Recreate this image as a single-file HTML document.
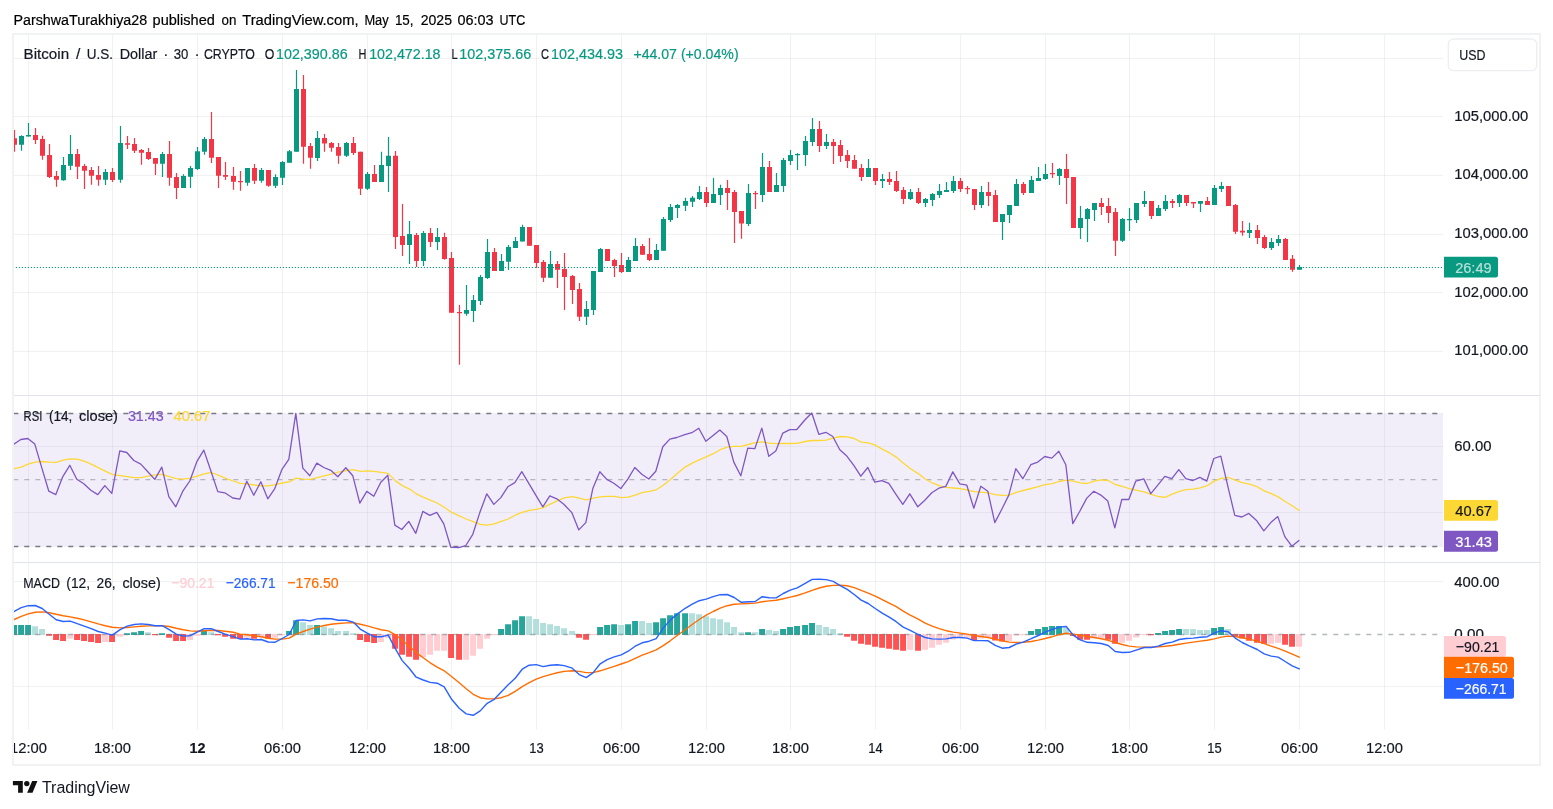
<!DOCTYPE html>
<html lang="en"><head><meta charset="utf-8"><title>BTCUSD chart</title>
<style>
html,body{margin:0;padding:0;background:#fff;}
body{width:1553px;height:809px;overflow:hidden;position:relative;font-family:"Liberation Sans", sans-serif;}
svg text{white-space:pre;stroke-width:0.2px;}
</style></head><body>
<svg width="1553" height="809" viewBox="0 0 1553 809" style="position:absolute;left:0;top:0;display:block" font-family='"Liberation Sans", sans-serif' font-size="15.5">
<defs><clipPath id="cp"><rect x="14" y="35" width="1429" height="695"/></clipPath><clipPath id="cf"><rect x="14" y="35" width="1525" height="729"/></clipPath></defs>
<rect x="0" y="0" width="1553" height="809" fill="#fff"/>
<path d="M28.5 34V729.5 M112.5 34V729.5 M197.5 34V729.5 M282.5 34V729.5 M367.5 34V729.5 M451.5 34V729.5 M536.5 34V729.5 M621.5 34V729.5 M706.5 34V729.5 M790.5 34V729.5 M875.5 34V729.5 M960.5 34V729.5 M1045.5 34V729.5 M1129.5 34V729.5 M1214.5 34V729.5 M1299.5 34V729.5 M1384.5 34V729.5" stroke="#2a2e39" stroke-opacity="0.065" stroke-width="1" fill="none"/>
<path d="M13 58.5H1443 M13 116.5H1443 M13 175.5H1443 M13 234.5H1443 M13 292.5H1443 M13 351.5H1443 M13 581.5H1443 M13 686.5H1443" stroke="#2a2e39" stroke-opacity="0.065" stroke-width="1" fill="none"/>
<rect x="13" y="413" width="1430" height="134" fill="#f2eef9"/>
<path d="M28.5 413V547 M112.5 413V547 M197.5 413V547 M282.5 413V547 M367.5 413V547 M451.5 413V547 M536.5 413V547 M621.5 413V547 M706.5 413V547 M790.5 413V547 M875.5 413V547 M960.5 413V547 M1045.5 413V547 M1129.5 413V547 M1214.5 413V547 M1299.5 413V547 M1384.5 413V547" stroke="#2a2e39" stroke-opacity="0.055" stroke-width="1" fill="none"/>
<path d="M13 446.5H1443M13 512.5H1443" stroke="#2a2e39" stroke-opacity="0.055" stroke-width="1" fill="none"/>
<path d="M13.3 413.5H1443M13.3 546.5H1443" stroke="#787b86" stroke-width="1.3" stroke-dasharray="5 6" fill="none"/>
<path d="M13.3 479.6H1443" stroke="#787b86" stroke-opacity="0.5" stroke-width="1.3" stroke-dasharray="5 6" fill="none"/>
<g clip-path="url(#cp)">
<path d="M21.5 135.3V150.8M28.5 123.1V136.6M63.5 157.1V180.8M70.5 135.1V169.9M105.5 169.0V184.9M120.5 126.1V182.8M162.5 152.0V177.0M183.5 174.2V187.9M190.5 166.1V187.9M197.5 147.0V169.9M204.5 137.0V154.8M247.5 168.1V185.8M261.5 168.1V182.8M275.5 174.2V187.9M282.5 161.0V184.9M289.5 150.0V162.8M296.5 70.0V151.7M317.5 131.0V160.9M346.5 142.0V156.9M367.5 172.0V189.9M381.5 151.8V181.9M388.5 136.9V192.0M409.5 221.0V263.9M423.5 230.9V266.0M437.5 228.0V250.0M466.5 285.0V315.8M473.5 295.0V321.9M480.5 274.9V304.9M487.5 239.1V279.0M501.5 253.9V270.9M508.5 245.0V269.9M515.5 236.9V248.0M522.5 224.8V241.6M550.5 250.9V277.8M586.5 301.0V324.9M593.5 271.0V315.0M600.5 247.9V271.9M628.5 256.9V271.9M635.5 238.0V260.9M656.5 243.9V259.9M663.5 217.0V250.8M670.5 203.9V222.0M677.5 203.9V218.0M685.5 197.8V210.9M692.5 196.0V206.9M699.5 185.9V199.9M713.5 177.9V202.9M720.5 184.8V205.0M748.5 184.1V226.0M762.5 153.0V202.1M776.5 173.0V192.0M783.5 158.0V192.0M790.5 150.0V164.9M797.5 153.0V170.0M805.5 136.0V166.1M812.5 118.0V145.9M826.5 134.0V148.9M868.5 158.9V176.9M882.5 174.0V188.0M910.5 188.9V200.0M925.5 198.0V206.9M932.5 193.1V205.9M939.5 184.0V198.0M946.5 182.0V191.9M953.5 176.1V193.1M981.5 185.9V207.9M1002.5 214.0V239.9M1009.5 204.9V222.9M1016.5 179.0V205.9M1031.5 176.1V193.1M1038.5 167.0V181.0M1045.5 163.9V179.9M1059.5 167.9V184.9M1080.5 206.0V239.1M1087.5 208.0V242.0M1094.5 203.1V221.1M1122.5 217.9V242.0M1129.5 208.0V231.0M1136.5 203.1V223.0M1144.5 191.0V207.0M1158.5 205.0V215.9M1165.5 195.0V211.0M1179.5 194.0V207.0M1200.5 201.0V211.9M1214.5 185.0V204.9M1221.5 182.0V191.9M1249.5 222.8V237.9M1271.5 237.9V250.0M1278.5 235.0V245.9M1299.5 264.9V269.7" stroke="#089981" stroke-width="1.2" fill="none"/>
<path d="M19.0 136.1h5V144.8h-5zM26.0 135.1h5V136.6h-5zM61.0 165.0h5V180.2h-5zM68.0 154.1h5V165.7h-5zM103.0 172.1h5V179.7h-5zM118.0 143.0h5V179.7h-5zM160.0 154.1h5V163.8h-5zM181.0 176.1h5V187.9h-5zM188.0 168.1h5V176.8h-5zM195.0 151.2h5V169.0h-5zM202.0 139.1h5V151.7h-5zM245.0 168.1h5V182.8h-5zM259.0 170.0h5V180.8h-5zM273.0 177.1h5V185.8h-5zM280.0 162.1h5V177.8h-5zM287.0 151.2h5V162.8h-5zM294.0 89.1h5V151.7h-5zM315.0 138.0h5V157.9h-5zM344.0 143.0h5V155.8h-5zM365.0 173.9h5V188.8h-5zM379.0 164.9h5V181.9h-5zM386.0 155.8h5V165.9h-5zM407.0 234.1h5V245.0h-5zM421.0 233.0h5V261.0h-5zM435.0 237.0h5V242.0h-5zM464.0 310.1h5V313.8h-5zM471.0 300.0h5V310.9h-5zM478.0 277.0h5V301.0h-5zM485.0 251.9h5V278.0h-5zM499.0 261.0h5V270.9h-5zM506.0 247.0h5V261.8h-5zM513.0 241.1h5V248.0h-5zM520.0 227.0h5V241.6h-5zM548.0 264.0h5V277.8h-5zM584.0 308.9h5V316.8h-5zM591.0 271.0h5V309.9h-5zM598.0 248.9h5V271.9h-5zM626.0 260.1h5V271.9h-5zM633.0 246.0h5V260.9h-5zM654.0 250.0h5V259.9h-5zM661.0 218.9h5V250.8h-5zM668.0 206.9h5V219.9h-5zM675.0 205.0h5V207.9h-5zM683.0 201.0h5V205.8h-5zM690.0 197.8h5V201.8h-5zM697.0 192.0h5V198.9h-5zM711.0 193.9h5V202.9h-5zM718.0 188.0h5V194.9h-5zM746.0 193.0h5V224.0h-5zM760.0 167.0h5V194.9h-5zM774.0 185.0h5V192.0h-5zM781.0 159.9h5V186.0h-5zM788.0 155.0h5V160.9h-5zM795.0 154.0h5V155.2h-5zM803.0 140.9h5V155.0h-5zM810.0 129.1h5V141.9h-5zM824.0 141.9h5V145.9h-5zM866.0 168.0h5V176.9h-5zM880.0 178.9h5V181.1h-5zM908.0 191.9h5V199.0h-5zM923.0 199.0h5V203.0h-5zM930.0 194.1h5V200.0h-5zM937.0 191.1h5V195.0h-5zM944.0 189.9h5V191.9h-5zM951.0 181.0h5V191.1h-5zM979.0 191.9h5V204.9h-5zM1000.0 214.0h5V221.9h-5zM1007.0 204.9h5V215.0h-5zM1014.0 184.0h5V205.9h-5zM1029.0 180.0h5V193.1h-5zM1036.0 178.0h5V181.0h-5zM1043.0 174.0h5V178.9h-5zM1057.0 168.9h5V176.0h-5zM1078.0 217.9h5V228.0h-5zM1085.0 209.0h5V218.9h-5zM1092.0 203.1h5V210.0h-5zM1120.0 218.9h5V240.8h-5zM1127.0 219.0h5V220.2h-5zM1134.0 203.1h5V219.9h-5zM1142.0 201.1h5V204.1h-5zM1156.0 208.0h5V215.9h-5zM1163.0 201.1h5V209.0h-5zM1177.0 195.0h5V203.1h-5zM1198.0 201.0h5V203.8h-5zM1212.0 188.1h5V204.9h-5zM1219.0 186.0h5V188.9h-5zM1247.0 229.9h5V232.9h-5zM1269.0 241.9h5V247.9h-5zM1276.0 238.9h5V242.9h-5zM1297.0 267.0h5V269.7h-5z" fill="#089981"/>
<path d="M14.5 130.1V151.7M35.5 128.0V143.9M42.5 135.8V159.8M49.5 144.1V178.0M56.5 171.1V186.8M77.5 149.1V178.9M84.5 164.0V188.9M91.5 167.1V184.7M98.5 166.1V185.8M112.5 168.1V182.0M127.5 136.1V148.9M134.5 138.0V152.9M141.5 149.1V164.8M148.5 148.1V160.0M155.5 158.1V174.9M169.5 141.0V185.8M176.5 173.1V198.9M211.5 111.9V162.9M218.5 157.1V187.9M225.5 162.1V179.9M233.5 167.1V189.8M240.5 171.1V190.8M254.5 164.0V183.9M268.5 170.0V186.8M303.5 75.1V163.8M310.5 143.0V168.8M324.5 134.0V151.8M331.5 142.0V151.8M338.5 143.0V163.8M353.5 136.9V155.0M360.5 151.8V194.9M374.5 164.9V181.9M395.5 151.0V249.0M402.5 204.0V255.9M416.5 233.0V267.1M430.5 228.0V246.9M444.5 232.7V259.8M451.5 251.9V312.8M459.5 304.9V364.7M494.5 248.0V270.9M529.5 227.0V245.8M536.5 245.0V268.0M543.5 260.0V282.0M557.5 261.0V287.9M564.5 252.9V309.9M572.5 274.9V303.9M579.5 283.0V321.0M607.5 248.9V260.9M614.5 258.8V276.9M621.5 252.9V272.9M642.5 243.9V254.8M649.5 238.0V260.9M706.5 186.9V206.9M727.5 180.0V210.0M734.5 189.9V243.1M741.5 211.0V238.8M755.5 191.0V209.0M769.5 160.9V192.0M819.5 121.0V152.0M833.5 139.0V163.9M840.5 140.0V161.9M847.5 150.0V168.0M854.5 155.0V168.8M861.5 163.9V181.1M875.5 168.0V185.0M889.5 172.0V185.0M896.5 170.9V191.9M903.5 186.9V203.9M918.5 187.9V203.9M960.5 178.0V191.9M967.5 185.9V194.1M974.5 188.9V209.9M988.5 182.0V205.9M995.5 189.9V221.9M1023.5 182.0V195.0M1052.5 162.9V178.0M1066.5 154.0V204.1M1073.5 177.0V228.0M1101.5 197.9V214.9M1108.5 197.9V223.0M1115.5 208.0V255.9M1151.5 201.1V218.9M1172.5 198.9V208.0M1186.5 195.0V205.9M1193.5 201.9V208.0M1207.5 196.9V204.9M1228.5 186.0V205.9M1235.5 204.0V233.9M1242.5 220.9V235.8M1257.5 224.9V244.0M1264.5 235.0V249.0M1285.5 237.9V259.9M1292.5 254.9V271.8" stroke="#f23645" stroke-width="1.2" fill="none"/>
<path d="M12.0 138.2h5V144.8h-5zM33.0 135.1h5V139.9h-5zM40.0 139.1h5V155.7h-5zM47.0 155.0h5V177.0h-5zM54.0 176.1h5V179.7h-5zM75.0 154.1h5V166.7h-5zM82.0 166.1h5V170.7h-5zM89.0 170.0h5V175.7h-5zM96.0 175.1h5V179.7h-5zM110.0 172.1h5V179.9h-5zM125.0 143.2h5V144.8h-5zM132.0 144.1h5V150.8h-5zM139.0 150.1h5V152.7h-5zM146.0 152.0h5V159.0h-5zM153.0 158.1h5V163.8h-5zM167.0 154.1h5V177.8h-5zM174.0 177.1h5V187.9h-5zM209.0 139.1h5V157.8h-5zM216.0 157.1h5V175.7h-5zM223.0 175.1h5V176.8h-5zM231.0 176.1h5V181.8h-5zM238.0 181.0h5V182.2h-5zM252.0 168.1h5V180.8h-5zM266.0 170.0h5V185.8h-5zM301.0 89.1h5V146.7h-5zM308.0 146.0h5V157.8h-5zM322.0 138.0h5V143.6h-5zM329.0 143.0h5V147.8h-5zM336.0 147.0h5V155.8h-5zM351.0 143.0h5V152.9h-5zM358.0 151.8h5V188.8h-5zM372.0 173.9h5V181.9h-5zM393.0 155.8h5V237.0h-5zM400.0 235.9h5V245.0h-5zM414.0 234.9h5V261.0h-5zM428.0 233.0h5V242.0h-5zM442.0 237.1h5V258.9h-5zM449.0 258.1h5V312.8h-5zM457.0 312.0h5V313.2h-5zM492.0 251.9h5V270.9h-5zM527.0 227.0h5V245.8h-5zM534.0 245.0h5V263.0h-5zM541.0 262.0h5V277.8h-5zM555.0 264.0h5V269.7h-5zM562.0 268.9h5V276.9h-5zM570.0 276.1h5V289.9h-5zM577.0 288.9h5V316.8h-5zM605.0 248.9h5V260.9h-5zM612.0 260.1h5V266.0h-5zM619.0 264.9h5V271.9h-5zM640.0 246.0h5V254.8h-5zM647.0 254.0h5V260.1h-5zM704.0 192.0h5V202.9h-5zM725.0 188.0h5V193.0h-5zM732.0 192.0h5V211.9h-5zM739.0 211.0h5V223.6h-5zM753.0 193.0h5V194.2h-5zM767.0 167.0h5V192.0h-5zM817.0 129.1h5V145.9h-5zM831.0 141.9h5V145.9h-5zM838.0 145.1h5V156.0h-5zM845.0 155.0h5V160.9h-5zM852.0 159.9h5V168.8h-5zM859.0 168.0h5V176.9h-5zM873.0 168.0h5V181.1h-5zM887.0 178.9h5V181.9h-5zM894.0 181.0h5V191.1h-5zM901.0 189.9h5V199.0h-5zM916.0 191.9h5V203.0h-5zM958.0 181.0h5V188.9h-5zM965.0 188.0h5V189.2h-5zM972.0 188.9h5V204.9h-5zM986.0 191.9h5V196.0h-5zM993.0 195.0h5V221.9h-5zM1021.0 184.0h5V193.1h-5zM1050.0 173.0h5V174.2h-5zM1064.0 168.9h5V178.0h-5zM1071.0 177.0h5V228.0h-5zM1099.0 203.1h5V207.0h-5zM1106.0 206.0h5V213.0h-5zM1113.0 212.0h5V240.8h-5zM1149.0 201.1h5V215.9h-5zM1170.0 201.1h5V203.1h-5zM1184.0 195.0h5V203.0h-5zM1191.0 201.9h5V203.6h-5zM1205.0 201.0h5V204.9h-5zM1226.0 186.0h5V205.9h-5zM1233.0 204.9h5V231.8h-5zM1240.0 230.8h5V232.5h-5zM1255.0 229.9h5V237.9h-5zM1262.0 236.9h5V247.9h-5zM1283.0 238.9h5V259.9h-5zM1290.0 258.8h5V269.7h-5z" fill="#f23645"/>
<path d="M12.8 267.5H1443" stroke="#089981" stroke-width="1.1" stroke-dasharray="1.2 1.8" fill="none"/>
<polyline points="7.2,470.3 14.2,468.7 21.2,467.1 28.2,464.1 35.2,462.1 42.2,461.5 49.2,462.1 56.2,462.3 63.2,460.1 70.2,458.9 77.2,459.1 84.2,461.1 91.2,464.1 98.2,467.7 105.2,471.1 112.2,474.4 120.2,475.6 127.2,476.6 134.2,477.6 141.2,477.6 148.2,476.2 155.2,474.8 162.2,474.4 169.2,476.6 176.2,478.6 183.2,479.2 190.2,478.2 197.2,476.2 204.2,473.8 211.2,472.5 218.2,475.2 225.2,478.2 233.2,481.0 240.2,483.4 247.2,483.8 254.2,485.0 261.2,485.8 268.2,485.8 275.2,484.6 282.2,483.0 289.2,481.8 296.2,478.2 303.2,479.2 310.2,479.4 317.2,477.6 324.2,475.8 331.2,474.2 338.2,472.1 346.2,470.7 353.2,469.7 360.2,471.3 367.2,470.9 374.2,471.3 381.2,472.3 388.2,473.4 395.2,480.6 402.2,485.6 409.2,488.8 416.2,493.8 423.2,497.2 430.2,500.2 437.2,503.0 444.2,507.2 451.2,512.2 459.2,515.8 466.2,519.0 473.2,521.6 480.2,524.3 487.2,525.1 494.2,523.9 501.2,521.4 508.2,519.0 515.2,515.2 522.2,512.4 529.2,510.4 536.2,509.4 543.2,507.6 550.2,504.2 557.2,500.8 564.2,497.8 572.2,496.6 579.2,498.2 586.2,499.8 593.2,498.2 600.2,496.8 607.2,496.4 614.2,496.4 621.2,497.6 628.2,497.2 635.2,495.2 642.2,492.6 649.2,491.4 656.2,489.8 663.2,485.2 670.2,479.8 677.2,473.6 685.2,467.1 692.2,463.1 699.2,459.9 706.2,456.9 713.2,453.7 720.2,449.7 727.2,447.1 734.2,446.3 741.2,446.3 748.2,444.5 755.2,442.7 762.2,441.9 769.2,443.1 776.2,443.7 783.2,443.5 790.2,443.5 797.2,443.3 805.2,441.5 812.2,440.5 819.2,440.5 826.2,440.1 833.2,438.1 840.2,436.5 847.2,436.9 854.2,438.5 861.2,442.1 868.2,442.9 875.2,445.1 882.2,449.1 889.2,452.7 896.2,457.1 903.2,463.1 910.2,468.5 918.2,473.6 925.2,479.0 932.2,482.8 939.2,485.6 946.2,487.4 953.2,488.0 960.2,488.6 967.2,490.0 974.2,491.6 981.2,492.2 988.2,492.8 995.2,494.6 1002.2,495.4 1009.2,495.1 1016.2,492.3 1023.2,490.5 1031.2,488.5 1038.2,486.7 1045.2,484.7 1052.2,483.7 1059.2,481.5 1066.2,480.1 1073.2,481.1 1080.2,482.9 1087.2,483.5 1094.2,481.1 1101.2,479.9 1108.2,480.5 1115.2,484.5 1122.2,486.3 1129.2,488.7 1136.2,490.1 1144.2,491.9 1151.2,494.3 1158.2,496.5 1165.2,497.3 1172.2,494.1 1179.2,491.3 1186.2,489.7 1193.2,489.1 1200.2,487.9 1207.2,485.7 1214.2,481.1 1221.2,478.3 1228.2,477.5 1235.2,480.1 1242.2,482.7 1249.2,484.1 1257.2,486.7 1264.2,490.9 1271.2,493.7 1278.2,496.9 1285.2,501.5 1292.2,505.8 1299.2,510.4" stroke="#fdd835" stroke-width="1.3" fill="none" stroke-linejoin="round" stroke-linecap="square"/>
<polyline points="6.8,450.5 13.8,444.3 20.8,439.5 27.8,438.5 34.8,444.1 41.8,467.9 48.8,491.2 55.8,494.6 62.8,476.6 69.8,465.3 76.8,479.2 83.8,483.8 90.8,490.2 97.8,494.6 104.8,485.6 111.8,493.4 119.8,450.9 126.8,452.5 133.8,460.5 140.8,464.1 147.8,471.7 154.8,479.4 161.8,467.1 168.8,496.6 175.8,506.8 182.8,491.2 189.8,481.0 196.8,461.7 203.8,450.1 210.8,470.7 217.8,491.6 224.8,492.8 232.8,498.0 239.8,499.2 246.8,481.2 253.8,495.2 260.8,481.8 267.8,498.8 274.8,488.6 281.8,469.7 288.8,459.3 295.8,413.4 302.8,468.1 309.8,475.8 316.8,463.1 323.8,467.5 330.8,470.3 337.8,476.8 345.8,467.7 352.8,475.8 359.8,503.2 366.8,491.4 373.8,496.2 380.8,482.2 387.8,475.2 394.8,525.1 401.8,529.5 408.8,521.4 415.8,533.3 422.8,511.4 429.8,515.4 436.8,512.4 443.8,523.9 450.8,547.3 458.8,547.5 465.8,545.5 472.8,534.3 479.8,512.6 486.8,493.8 493.8,504.4 500.8,497.6 507.8,486.8 514.8,482.6 521.8,471.7 528.8,483.4 535.8,495.2 542.8,506.8 549.8,495.8 556.8,498.8 563.8,504.2 571.8,512.6 578.8,529.9 585.8,522.6 592.8,488.6 599.8,471.7 606.8,479.4 613.8,483.2 620.8,488.6 627.8,479.2 634.8,467.5 641.8,474.2 648.8,479.0 655.8,471.3 662.8,446.7 669.8,439.1 676.8,437.5 684.8,434.7 691.8,432.7 698.8,428.3 705.8,441.3 712.8,435.7 719.8,430.1 726.8,436.5 733.8,462.1 740.8,475.8 747.8,448.1 754.8,448.7 761.8,428.1 768.8,456.3 775.8,451.1 782.8,433.1 789.8,429.7 796.8,429.5 804.8,420.0 811.8,413.0 818.8,434.3 825.8,432.3 832.8,436.5 839.8,449.7 846.8,456.1 853.8,465.3 860.8,476.2 867.8,467.5 874.8,482.2 881.8,480.6 888.8,483.4 895.8,494.2 902.8,504.4 909.8,493.8 917.8,506.8 924.8,500.2 931.8,492.8 938.8,488.2 945.8,486.4 952.8,471.9 959.8,483.8 966.8,485.2 973.8,508.2 980.8,486.2 987.8,491.2 994.8,522.6 1001.8,509.2 1008.8,495.1 1015.8,468.7 1022.8,478.7 1030.8,464.7 1037.8,462.1 1044.8,456.5 1051.8,458.1 1058.8,451.3 1065.8,464.7 1072.8,523.6 1079.8,511.2 1086.8,498.1 1093.8,491.3 1100.8,495.1 1107.8,501.1 1114.8,527.8 1121.8,499.5 1128.8,499.5 1135.8,481.1 1143.8,478.9 1150.8,493.7 1157.8,485.1 1164.8,476.3 1171.8,478.7 1178.8,469.7 1185.8,478.7 1192.8,480.5 1199.8,477.3 1206.8,481.1 1213.8,458.5 1220.8,456.1 1227.8,486.1 1234.8,515.4 1241.8,517.0 1248.8,513.4 1256.8,520.8 1263.8,530.8 1270.8,522.6 1277.8,516.6 1284.8,536.6 1291.8,546.2 1298.8,540.6" stroke="#7e57c2" stroke-width="1.3" fill="none" stroke-linejoin="round" stroke-linecap="square"/>
<path d="M11.1 625.1h5.9V635.0h-5.9zM18.1 625.1h5.9V635.0h-5.9zM25.1 625.1h5.9V635.0h-5.9zM124.1 633.3h5.9V635.0h-5.9zM131.1 632.3h5.9V635.0h-5.9zM138.1 631.1h5.9V635.0h-5.9zM159.1 633.3h5.9V635.0h-5.9zM201.1 630.1h5.9V635.0h-5.9zM286.1 631.1h5.9V635.0h-5.9zM293.1 620.3h5.9V635.0h-5.9zM314.1 625.1h5.9V635.0h-5.9zM498.1 629.1h5.9V635.0h-5.9zM505.1 624.3h5.9V635.0h-5.9zM512.1 620.3h5.9V635.0h-5.9zM519.1 616.3h5.9V635.0h-5.9zM597.1 627.1h5.9V635.0h-5.9zM604.1 625.1h5.9V635.0h-5.9zM611.1 624.3h5.9V635.0h-5.9zM625.1 624.3h5.9V635.0h-5.9zM632.1 621.1h5.9V635.0h-5.9zM653.1 622.3h5.9V635.0h-5.9zM660.1 618.3h5.9V635.0h-5.9zM667.1 615.3h5.9V635.0h-5.9zM674.1 613.3h5.9V635.0h-5.9zM682.1 613.3h5.9V635.0h-5.9zM745.1 632.3h5.9V635.0h-5.9zM759.1 629.1h5.9V635.0h-5.9zM780.1 629.1h5.9V635.0h-5.9zM787.1 627.1h5.9V635.0h-5.9zM794.1 626.1h5.9V635.0h-5.9zM802.1 625.1h5.9V635.0h-5.9zM809.1 623.1h5.9V635.0h-5.9zM1028.1 631.1h5.9V635.0h-5.9zM1035.1 629.1h5.9V635.0h-5.9zM1042.1 627.1h5.9V635.0h-5.9zM1049.1 626.1h5.9V635.0h-5.9zM1056.1 626.1h5.9V635.0h-5.9zM1155.1 633.1h5.9V635.0h-5.9zM1162.1 631.1h5.9V635.0h-5.9zM1169.1 630.1h5.9V635.0h-5.9zM1176.1 629.1h5.9V635.0h-5.9zM1211.1 628.1h5.9V635.0h-5.9zM1218.1 627.1h5.9V635.0h-5.9z" fill="#26a69a"/>
<path d="M32.1 626.3h5.9V635.0h-5.9zM39.1 629.1h5.9V635.0h-5.9zM145.1 632.3h5.9V635.0h-5.9zM208.1 632.3h5.9V635.0h-5.9zM300.1 622.3h5.9V635.0h-5.9zM307.1 625.1h5.9V635.0h-5.9zM321.1 626.5h5.9V635.0h-5.9zM328.1 628.3h5.9V635.0h-5.9zM335.1 631.1h5.9V635.0h-5.9zM343.1 631.1h5.9V635.0h-5.9zM350.1 633.3h5.9V635.0h-5.9zM526.1 616.3h5.9V635.0h-5.9zM533.1 619.1h5.9V635.0h-5.9zM540.1 623.1h5.9V635.0h-5.9zM547.1 624.3h5.9V635.0h-5.9zM554.1 626.1h5.9V635.0h-5.9zM561.1 628.3h5.9V635.0h-5.9zM569.1 631.1h5.9V635.0h-5.9zM618.1 625.1h5.9V635.0h-5.9zM639.1 621.1h5.9V635.0h-5.9zM646.1 623.1h5.9V635.0h-5.9zM689.1 613.3h5.9V635.0h-5.9zM696.1 614.3h5.9V635.0h-5.9zM703.1 616.3h5.9V635.0h-5.9zM710.1 618.3h5.9V635.0h-5.9zM717.1 619.3h5.9V635.0h-5.9zM724.1 622.3h5.9V635.0h-5.9zM731.1 627.1h5.9V635.0h-5.9zM738.1 632.3h5.9V635.0h-5.9zM752.1 632.3h5.9V635.0h-5.9zM766.1 630.1h5.9V635.0h-5.9zM773.1 631.1h5.9V635.0h-5.9zM816.1 625.1h5.9V635.0h-5.9zM823.1 627.1h5.9V635.0h-5.9zM830.1 629.1h5.9V635.0h-5.9zM837.1 633.3h5.9V635.0h-5.9zM1063.1 628.1h5.9V635.0h-5.9zM1183.1 629.1h5.9V635.0h-5.9zM1190.1 629.1h5.9V635.0h-5.9zM1197.1 630.1h5.9V635.0h-5.9zM1204.1 630.1h5.9V635.0h-5.9zM1225.1 629.1h5.9V635.0h-5.9z" fill="#b2dfdb"/>
<path d="M46.1 634.0h5.9V635.7h-5.9zM53.1 634.0h5.9V639.9h-5.9zM60.1 634.0h5.9V641.0h-5.9zM74.1 634.0h5.9V639.9h-5.9zM81.1 634.0h5.9V641.0h-5.9zM88.1 634.0h5.9V642.0h-5.9zM95.1 634.0h5.9V643.0h-5.9zM109.1 634.0h5.9V642.0h-5.9zM152.1 634.0h5.9V635.3h-5.9zM166.1 634.0h5.9V637.7h-5.9zM173.1 634.0h5.9V641.0h-5.9zM180.1 634.0h5.9V641.0h-5.9zM215.1 634.0h5.9V635.3h-5.9zM222.1 634.0h5.9V636.7h-5.9zM230.1 634.0h5.9V638.7h-5.9zM237.1 634.0h5.9V639.1h-5.9zM251.1 634.0h5.9V638.7h-5.9zM265.1 634.0h5.9V638.5h-5.9zM357.1 634.0h5.9V639.9h-5.9zM364.1 634.0h5.9V642.0h-5.9zM371.1 634.0h5.9V643.0h-5.9zM392.1 634.0h5.9V648.8h-5.9zM399.1 634.0h5.9V654.8h-5.9zM406.1 634.0h5.9V656.8h-5.9zM413.1 634.0h5.9V659.8h-5.9zM448.1 634.0h5.9V658.0h-5.9zM456.1 634.0h5.9V659.8h-5.9zM576.1 634.0h5.9V637.7h-5.9zM583.1 634.0h5.9V639.7h-5.9zM844.1 634.0h5.9V636.7h-5.9zM851.1 634.0h5.9V640.8h-5.9zM858.1 634.0h5.9V643.8h-5.9zM865.1 634.0h5.9V644.8h-5.9zM872.1 634.0h5.9V646.8h-5.9zM879.1 634.0h5.9V647.8h-5.9zM886.1 634.0h5.9V648.8h-5.9zM893.1 634.0h5.9V649.8h-5.9zM900.1 634.0h5.9V650.8h-5.9zM915.1 634.0h5.9V650.8h-5.9zM971.1 634.0h5.9V640.2h-5.9zM992.1 634.0h5.9V640.6h-5.9zM999.1 634.0h5.9V641.6h-5.9zM1070.1 634.0h5.9V636.1h-5.9zM1077.1 634.0h5.9V639.7h-5.9zM1084.1 634.0h5.9V639.7h-5.9zM1105.1 634.0h5.9V639.7h-5.9zM1112.1 634.0h5.9V643.7h-5.9zM1148.1 634.0h5.9V635.3h-5.9zM1232.1 634.0h5.9V636.1h-5.9zM1239.1 634.0h5.9V638.5h-5.9zM1246.1 634.0h5.9V640.7h-5.9zM1254.1 634.0h5.9V642.7h-5.9zM1261.1 634.0h5.9V643.7h-5.9zM1282.1 634.0h5.9V644.7h-5.9zM1289.1 634.0h5.9V646.7h-5.9z" fill="#ff5252"/>
<path d="M67.1 634.0h5.9V638.7h-5.9zM102.1 634.0h5.9V642.0h-5.9zM117.1 634.0h5.9V636.7h-5.9zM187.1 634.0h5.9V639.9h-5.9zM194.1 634.0h5.9V635.7h-5.9zM244.1 634.0h5.9V637.7h-5.9zM258.1 634.0h5.9V637.1h-5.9zM272.1 634.0h5.9V637.7h-5.9zM279.1 634.0h5.9V635.3h-5.9zM378.1 634.0h5.9V642.0h-5.9zM385.1 634.0h5.9V638.1h-5.9zM420.1 634.0h5.9V657.2h-5.9zM427.1 634.0h5.9V654.8h-5.9zM434.1 634.0h5.9V650.8h-5.9zM441.1 634.0h5.9V650.8h-5.9zM463.1 634.0h5.9V659.8h-5.9zM470.1 634.0h5.9V655.8h-5.9zM477.1 634.0h5.9V648.8h-5.9zM484.1 634.0h5.9V638.7h-5.9zM491.1 634.0h5.9V635.3h-5.9zM590.1 634.0h5.9V635.3h-5.9zM907.1 634.0h5.9V649.8h-5.9zM922.1 634.0h5.9V649.8h-5.9zM929.1 634.0h5.9V647.8h-5.9zM936.1 634.0h5.9V644.8h-5.9zM943.1 634.0h5.9V642.8h-5.9zM950.1 634.0h5.9V639.5h-5.9zM957.1 634.0h5.9V638.1h-5.9zM964.1 634.0h5.9V637.5h-5.9zM978.1 634.0h5.9V638.5h-5.9zM985.1 634.0h5.9V637.5h-5.9zM1006.1 634.0h5.9V641.1h-5.9zM1013.1 634.0h5.9V635.5h-5.9zM1020.1 634.0h5.9V635.3h-5.9zM1091.1 634.0h5.9V638.5h-5.9zM1098.1 634.0h5.9V638.5h-5.9zM1119.1 634.0h5.9V642.7h-5.9zM1126.1 634.0h5.9V640.7h-5.9zM1133.1 634.0h5.9V637.5h-5.9zM1141.1 634.0h5.9V635.3h-5.9zM1268.1 634.0h5.9V643.7h-5.9zM1275.1 634.0h5.9V642.7h-5.9zM1296.1 634.0h5.9V646.7h-5.9z" fill="#ffcdd2"/>
<path d="M13.3 634.5H1443" stroke="#787b86" stroke-opacity="0.55" stroke-width="1.3" stroke-dasharray="5 6" fill="none"/>
<polyline points="7.2,622.7 14.2,619.5 21.2,616.3 28.2,613.9 35.2,612.3 42.2,611.9 49.2,612.7 56.2,614.3 63.2,615.7 70.2,616.9 77.2,618.3 84.2,619.9 91.2,621.9 98.2,623.9 105.2,625.7 112.2,627.3 120.2,627.9 127.2,627.5 134.2,626.9 141.2,626.3 148.2,625.9 155.2,625.9 162.2,625.7 169.2,626.5 176.2,628.3 183.2,629.7 190.2,630.9 197.2,631.3 204.2,630.7 211.2,630.3 218.2,630.5 225.2,631.3 233.2,632.3 240.2,634.1 247.2,634.7 254.2,635.7 261.2,636.7 268.2,638.3 275.2,639.1 282.2,639.1 289.2,638.1 296.2,634.1 303.2,631.5 310.2,629.1 317.2,627.1 324.2,625.5 331.2,624.3 338.2,623.5 346.2,622.9 353.2,622.7 360.2,624.3 367.2,625.9 374.2,627.9 381.2,629.7 388.2,630.9 395.2,634.5 402.2,640.2 409.2,646.2 416.2,652.6 423.2,657.8 430.2,662.8 437.2,667.2 444.2,670.8 451.2,676.2 459.2,682.8 466.2,688.8 473.2,694.3 480.2,697.7 487.2,698.9 494.2,698.9 501.2,697.7 508.2,695.3 515.2,691.3 522.2,686.6 529.2,682.6 536.2,679.2 543.2,676.6 550.2,674.6 557.2,672.8 564.2,671.4 572.2,670.8 579.2,671.4 586.2,672.6 593.2,672.6 600.2,670.8 607.2,668.6 614.2,666.4 621.2,664.0 628.2,661.6 635.2,658.4 642.2,655.2 649.2,652.6 656.2,649.8 663.2,645.6 670.2,640.8 677.2,635.5 685.2,629.7 692.2,624.5 699.2,619.5 706.2,615.1 713.2,611.5 720.2,608.1 727.2,605.7 734.2,604.3 741.2,603.9 748.2,603.5 755.2,603.1 762.2,601.7 769.2,600.9 776.2,600.3 783.2,598.7 790.2,597.1 797.2,595.5 805.2,592.9 812.2,590.3 819.2,588.0 826.2,586.2 833.2,585.4 840.2,585.2 847.2,585.8 854.2,587.6 861.2,590.3 868.2,593.1 875.2,596.1 882.2,599.7 889.2,603.1 896.2,606.7 903.2,611.1 910.2,615.1 918.2,619.1 925.2,623.1 932.2,626.1 939.2,628.7 946.2,630.7 953.2,632.1 960.2,633.1 967.2,634.1 974.2,635.5 981.2,636.5 988.2,637.5 995.2,639.1 1002.2,640.8 1009.2,642.1 1016.2,642.5 1023.2,642.3 1031.2,641.5 1038.2,640.1 1045.2,638.5 1052.2,636.7 1059.2,634.7 1066.2,633.3 1073.2,634.1 1080.2,635.1 1087.2,636.5 1094.2,637.5 1101.2,638.7 1108.2,640.3 1115.2,642.5 1122.2,644.5 1129.2,646.1 1136.2,646.9 1144.2,647.1 1151.2,647.1 1158.2,646.9 1165.2,646.3 1172.2,645.5 1179.2,644.3 1186.2,643.1 1193.2,642.1 1200.2,641.1 1207.2,640.3 1214.2,638.9 1221.2,637.1 1228.2,636.1 1235.2,636.5 1242.2,637.7 1249.2,639.1 1257.2,641.1 1264.2,643.7 1271.2,646.1 1278.2,648.3 1285.2,651.1 1292.2,654.1 1299.2,657.1" stroke="#ff6d00" stroke-width="1.4" fill="none" stroke-linejoin="round" stroke-linecap="square"/>
<polyline points="7.2,615.3 14.2,611.5 21.2,607.7 28.2,605.7 35.2,605.5 42.2,608.5 49.2,614.3 56.2,619.7 63.2,621.5 70.2,621.1 77.2,623.7 84.2,626.1 91.2,628.7 98.2,631.5 105.2,633.1 112.2,635.1 120.2,629.7 127.2,626.1 134.2,624.5 141.2,623.9 148.2,624.5 155.2,625.7 162.2,625.7 169.2,629.7 176.2,634.1 183.2,636.1 190.2,635.7 197.2,632.1 204.2,628.7 211.2,628.7 218.2,631.5 225.2,634.1 233.2,636.7 240.2,639.1 247.2,638.7 254.2,639.9 261.2,639.5 268.2,642.0 275.2,642.2 282.2,638.5 289.2,634.5 296.2,620.5 303.2,619.9 310.2,620.9 317.2,618.9 324.2,618.5 331.2,618.7 338.2,620.3 346.2,620.3 353.2,622.1 360.2,629.1 367.2,633.1 374.2,636.7 381.2,636.7 388.2,635.1 395.2,648.4 402.2,660.6 409.2,668.2 416.2,677.2 423.2,680.0 430.2,682.4 437.2,683.2 444.2,686.8 451.2,698.7 459.2,708.3 466.2,713.9 473.2,715.3 480.2,710.9 487.2,703.3 494.2,699.3 501.2,692.1 508.2,684.8 515.2,678.2 522.2,669.2 529.2,665.2 536.2,664.6 543.2,666.6 550.2,665.2 557.2,664.8 564.2,665.6 572.2,668.2 579.2,674.6 586.2,677.6 593.2,672.6 600.2,663.8 607.2,659.6 614.2,656.8 621.2,654.8 628.2,651.2 635.2,646.2 642.2,642.8 649.2,641.2 656.2,638.7 663.2,628.1 670.2,620.1 677.2,614.1 685.2,608.3 692.2,604.1 699.2,600.7 706.2,599.1 713.2,596.7 720.2,594.7 727.2,594.5 734.2,597.5 741.2,602.3 748.2,601.7 755.2,601.5 762.2,596.7 769.2,597.7 776.2,597.9 783.2,593.5 790.2,590.1 797.2,587.8 805.2,583.4 812.2,579.4 819.2,579.2 826.2,579.6 833.2,581.4 840.2,585.6 847.2,589.4 854.2,594.5 861.2,600.1 868.2,603.5 875.2,608.5 882.2,613.1 889.2,617.1 896.2,621.7 903.2,627.1 910.2,630.3 918.2,634.5 925.2,637.5 932.2,638.9 939.2,639.1 946.2,638.9 953.2,637.5 960.2,637.5 967.2,638.1 974.2,640.6 981.2,640.6 988.2,640.8 995.2,645.4 1002.2,648.2 1009.2,647.5 1016.2,644.1 1023.2,642.1 1031.2,638.7 1038.2,635.5 1045.2,632.1 1052.2,629.5 1059.2,627.1 1066.2,626.5 1073.2,635.1 1080.2,639.9 1087.2,642.3 1094.2,642.7 1101.2,643.5 1108.2,645.5 1115.2,651.5 1122.2,652.5 1129.2,652.3 1136.2,650.1 1144.2,647.5 1151.2,647.5 1158.2,646.1 1165.2,643.5 1172.2,642.1 1179.2,639.5 1186.2,638.5 1193.2,638.1 1200.2,637.3 1207.2,636.7 1214.2,633.1 1221.2,630.7 1228.2,631.7 1235.2,638.1 1242.2,642.5 1249.2,645.9 1257.2,649.5 1264.2,653.9 1271.2,656.1 1278.2,657.1 1285.2,661.5 1292.2,665.9 1299.2,668.9" stroke="#2962ff" stroke-width="1.4" fill="none" stroke-linejoin="round" stroke-linecap="square"/>
</g>
<rect x="13" y="34" width="1527" height="731" fill="none" stroke="#f1f2f3" stroke-width="2"/>
<path d="M14 395.5H1540M14 562.5H1540" stroke="#e0e3eb" stroke-width="1.1" fill="none"/>
<text y="24.7" fill="#000" stroke="#000"><tspan x="13.5" textLength="133.6" lengthAdjust="spacingAndGlyphs">ParshwaTurakhiya28</tspan> <tspan x="152.6" textLength="62.3" lengthAdjust="spacingAndGlyphs">published</tspan> <tspan x="221.5" textLength="14.9" lengthAdjust="spacingAndGlyphs">on</tspan> <tspan x="242.2" textLength="116.4" lengthAdjust="spacingAndGlyphs">TradingView.com,</tspan> <tspan x="364.4" textLength="24.3" lengthAdjust="spacingAndGlyphs">May</tspan> <tspan x="394.9" textLength="18.7" lengthAdjust="spacingAndGlyphs">15,</tspan> <tspan x="420.7" textLength="31.3" lengthAdjust="spacingAndGlyphs">2025</tspan> <tspan x="457.4" textLength="36.1" lengthAdjust="spacingAndGlyphs">06:03</tspan> <tspan x="499.5" textLength="25.7" lengthAdjust="spacingAndGlyphs">UTC</tspan></text>
<text y="58.8" fill="#131722" stroke="#131722"><tspan x="23.6" textLength="45.5" lengthAdjust="spacingAndGlyphs">Bitcoin</tspan> <tspan x="75.9">/</tspan> <tspan x="86.8" textLength="26.2" lengthAdjust="spacingAndGlyphs">U.S.</tspan> <tspan x="119.7" textLength="37.5" lengthAdjust="spacingAndGlyphs">Dollar</tspan> <tspan x="163.2">·</tspan> <tspan x="173.8" textLength="14.6" lengthAdjust="spacingAndGlyphs">30</tspan> <tspan x="194.6">·</tspan> <tspan x="203.9" textLength="51.1" lengthAdjust="spacingAndGlyphs">CRYPTO</tspan></text>
<text x="264.7" y="58.8" fill="#131722" stroke="#131722" textLength="9.6" lengthAdjust="spacingAndGlyphs">O</text>
<text x="276" y="58.8" fill="#089981" stroke="#089981" textLength="71.6" lengthAdjust="spacingAndGlyphs">102,390.86</text>
<text x="358.5" y="58.8" fill="#131722" stroke="#131722" textLength="7.9" lengthAdjust="spacingAndGlyphs">H</text>
<text x="369.2" y="58.8" fill="#089981" stroke="#089981" textLength="71.3" lengthAdjust="spacingAndGlyphs">102,472.18</text>
<text x="451.4" y="58.8" fill="#131722" stroke="#131722" textLength="6.2" lengthAdjust="spacingAndGlyphs">L</text>
<text x="459.3" y="58.8" fill="#089981" stroke="#089981" textLength="72" lengthAdjust="spacingAndGlyphs">102,375.66</text>
<text x="541" y="58.8" fill="#131722" stroke="#131722" textLength="8" lengthAdjust="spacingAndGlyphs">C</text>
<text x="551" y="58.8" fill="#089981" stroke="#089981" textLength="72" lengthAdjust="spacingAndGlyphs">102,434.93</text>
<text x="633.4" y="58.8" fill="#089981" stroke="#089981" textLength="105.2" lengthAdjust="spacingAndGlyphs">+44.07 (+0.04%)</text>
<text y="420.7" fill="#131722" stroke="#131722"><tspan x="23.6" textLength="18.7" lengthAdjust="spacingAndGlyphs">RSI</tspan> <tspan x="49" textLength="23.3" lengthAdjust="spacingAndGlyphs">(14,</tspan> <tspan x="79" textLength="39" lengthAdjust="spacingAndGlyphs">close)</tspan></text>
<text x="127.9" y="420.7" fill="#7e57c2" stroke="#7e57c2" textLength="35.8" lengthAdjust="spacingAndGlyphs">31.43</text>
<text x="173.6" y="420.7" fill="#fdd835" stroke="#fdd835" textLength="36.9" lengthAdjust="spacingAndGlyphs">40.67</text>
<text y="587.6" fill="#131722" stroke="#131722"><tspan x="23.2" textLength="36.7" lengthAdjust="spacingAndGlyphs">MACD</tspan> <tspan x="66.3" textLength="23.8" lengthAdjust="spacingAndGlyphs">(12,</tspan> <tspan x="96.5" textLength="19.1" lengthAdjust="spacingAndGlyphs">26,</tspan> <tspan x="122.4" textLength="38.3" lengthAdjust="spacingAndGlyphs">close)</tspan></text>
<text x="171.3" y="587.6" fill="#ffcdd2" stroke="#ffcdd2" textLength="43.1" lengthAdjust="spacingAndGlyphs">−90.21</text>
<text x="225.7" y="587.6" fill="#2962ff" stroke="#2962ff" textLength="49.9" lengthAdjust="spacingAndGlyphs">−266.71</text>
<text x="287.3" y="587.6" fill="#ff6d00" stroke="#ff6d00" textLength="51.4" lengthAdjust="spacingAndGlyphs">−176.50</text>
<text x="1454.3" y="121" fill="#131722" stroke="#131722" textLength="74" lengthAdjust="spacingAndGlyphs">105,000.00</text>
<text x="1454.3" y="179.3" fill="#131722" stroke="#131722" textLength="74" lengthAdjust="spacingAndGlyphs">104,000.00</text>
<text x="1454.3" y="238" fill="#131722" stroke="#131722" textLength="74" lengthAdjust="spacingAndGlyphs">103,000.00</text>
<text x="1454.3" y="296.7" fill="#131722" stroke="#131722" textLength="74" lengthAdjust="spacingAndGlyphs">102,000.00</text>
<text x="1454.3" y="355" fill="#131722" stroke="#131722" textLength="74" lengthAdjust="spacingAndGlyphs">101,000.00</text>
<text x="1454.3" y="451.3" fill="#131722" stroke="#131722" textLength="37.2" lengthAdjust="spacingAndGlyphs">60.00</text>
<text x="1454.3" y="587" fill="#131722" stroke="#131722" textLength="45.2" lengthAdjust="spacingAndGlyphs">400.00</text>
<text x="1454.3" y="639.4" fill="#131722" stroke="#131722" textLength="29.6" lengthAdjust="spacingAndGlyphs">0.00</text>
<path d="M1444 256.8H1495.5a2.5 2.5 0 0 1 2.5 2.5V275.1a2.5 2.5 0 0 1 -2.5 2.5H1444z" fill="#089981"/>
<text x="1455.2" y="272.8" fill="#b5e0d9" stroke="#b5e0d9" textLength="36.4" lengthAdjust="spacingAndGlyphs">26:49</text>
<path d="M1444 500.1H1495.5a2.5 2.5 0 0 1 2.5 2.5V518.3a2.5 2.5 0 0 1 -2.5 2.5H1444z" fill="#fdd835"/>
<text x="1455.3" y="515.8" fill="#131722" stroke="#131722" textLength="36.7" lengthAdjust="spacingAndGlyphs">40.67</text>
<path d="M1444 530.8H1495.5a2.5 2.5 0 0 1 2.5 2.5V549.2a2.5 2.5 0 0 1 -2.5 2.5H1444z" fill="#7e57c2"/>
<text x="1455.3" y="546.6" fill="#fff" stroke="#fff" textLength="36.7" lengthAdjust="spacingAndGlyphs">31.43</text>
<path d="M1444 636H1503.5a2.5 2.5 0 0 1 2.5 2.5V654.3a2.5 2.5 0 0 1 -2.5 2.5H1444z" fill="#ffcdd2"/>
<text x="1455.8" y="651.7" fill="#131722" stroke="#131722" textLength="43.6" lengthAdjust="spacingAndGlyphs">−90.21</text>
<path d="M1444 656.8H1511.5a2.5 2.5 0 0 1 2.5 2.5V675.4a2.5 2.5 0 0 1 -2.5 2.5H1444z" fill="#ff6d00"/>
<text x="1455.8" y="672.7" fill="#fff" stroke="#fff" textLength="52" lengthAdjust="spacingAndGlyphs">−176.50</text>
<path d="M1444 677.9H1511.5a2.5 2.5 0 0 1 2.5 2.5V696.2a2.5 2.5 0 0 1 -2.5 2.5H1444z" fill="#2962ff"/>
<text x="1455.8" y="693.6" fill="#fff" stroke="#fff" textLength="50.7" lengthAdjust="spacingAndGlyphs">−266.71</text>
<rect x="1448.3" y="39" width="88.4" height="31.6" rx="5" fill="#fff" stroke="#eceef1" stroke-width="1.3"/>
<text x="1459.2" y="59.8" fill="#131722" stroke="#131722" textLength="26.2" lengthAdjust="spacingAndGlyphs">USD</text>
<g clip-path="url(#cf)">
<text x="10.05" y="752.9" fill="#131722" stroke="#131722" textLength="36.9" lengthAdjust="spacingAndGlyphs">12:00</text>
<text x="94.05" y="752.9" fill="#131722" stroke="#131722" textLength="36.9" lengthAdjust="spacingAndGlyphs">18:00</text>
<text x="189.5" y="752.9" fill="#131722" stroke="#131722" textLength="16" lengthAdjust="spacingAndGlyphs" font-weight="bold">12</text>
<text x="264.05" y="752.9" fill="#131722" stroke="#131722" textLength="36.9" lengthAdjust="spacingAndGlyphs">06:00</text>
<text x="349.05" y="752.9" fill="#131722" stroke="#131722" textLength="36.9" lengthAdjust="spacingAndGlyphs">12:00</text>
<text x="433.05" y="752.9" fill="#131722" stroke="#131722" textLength="36.9" lengthAdjust="spacingAndGlyphs">18:00</text>
<text x="529.3" y="752.9" fill="#131722" stroke="#131722" textLength="14.4" lengthAdjust="spacingAndGlyphs">13</text>
<text x="603.05" y="752.9" fill="#131722" stroke="#131722" textLength="36.9" lengthAdjust="spacingAndGlyphs">06:00</text>
<text x="688.05" y="752.9" fill="#131722" stroke="#131722" textLength="36.9" lengthAdjust="spacingAndGlyphs">12:00</text>
<text x="772.05" y="752.9" fill="#131722" stroke="#131722" textLength="36.9" lengthAdjust="spacingAndGlyphs">18:00</text>
<text x="868.3" y="752.9" fill="#131722" stroke="#131722" textLength="14.4" lengthAdjust="spacingAndGlyphs">14</text>
<text x="942.05" y="752.9" fill="#131722" stroke="#131722" textLength="36.9" lengthAdjust="spacingAndGlyphs">06:00</text>
<text x="1027.05" y="752.9" fill="#131722" stroke="#131722" textLength="36.9" lengthAdjust="spacingAndGlyphs">12:00</text>
<text x="1111.05" y="752.9" fill="#131722" stroke="#131722" textLength="36.9" lengthAdjust="spacingAndGlyphs">18:00</text>
<text x="1207.3" y="752.9" fill="#131722" stroke="#131722" textLength="14.4" lengthAdjust="spacingAndGlyphs">15</text>
<text x="1281.05" y="752.9" fill="#131722" stroke="#131722" textLength="36.9" lengthAdjust="spacingAndGlyphs">06:00</text>
<text x="1366.05" y="752.9" fill="#131722" stroke="#131722" textLength="36.9" lengthAdjust="spacingAndGlyphs">12:00</text>
</g>
<path d="M12.9 781H22.8V792.7H18.1V785.3H12.9z" fill="#111"/>
<circle cx="26.8" cy="783.6" r="2.7" fill="#111"/>
<path d="M32.2 781H37.4L32.5 792.7H27.1z" fill="#111"/>
<text x="41.9" y="792.8" fill="#131722" stroke="#131722" textLength="88" lengthAdjust="spacingAndGlyphs" font-size="16" style="stroke-width:0">TradingView</text>
</svg>
</body></html>
